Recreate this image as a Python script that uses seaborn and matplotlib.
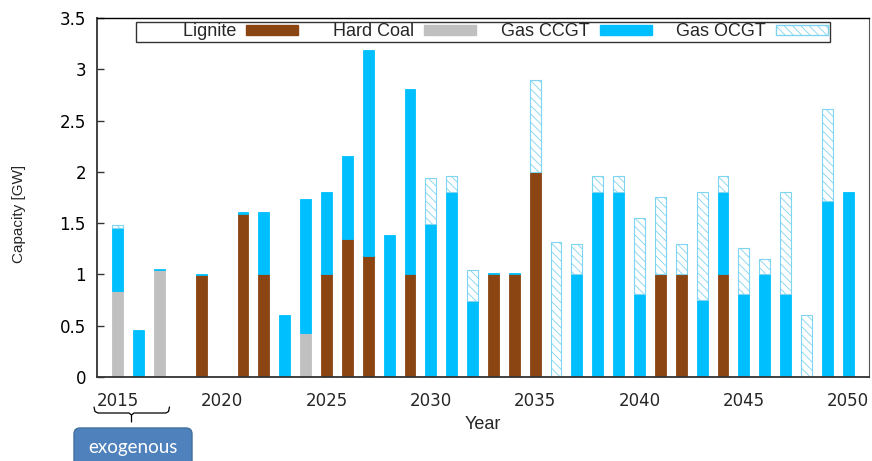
import pandas as pd
import seaborn as sns
import matplotlib.pyplot as plt
from matplotlib.patches import Patch, FancyBboxPatch
from matplotlib.lines import Line2D
from matplotlib.colors import to_rgb
from matplotlib.transforms import IdentityTransform

# capacity additions per year [GW]
years = [2015, 2016, 2017, 2019] + list(range(2021, 2051))
lignite = [0, 0, 0, 0.99,
           1.59, 1.0, 0, 0, 1.0, 1.345, 1.175, 0, 1.0, 0,
           0, 0, 1.0, 1.0, 2.0, 0, 0, 0, 0, 0,
           1.0, 1.0, 0, 1.0, 0, 0, 0, 0, 0, 0]
hard_coal = [0.84, 0, 1.04, 0,
             0, 0, 0, 0.43, 0, 0, 0, 0, 0, 0,
             0, 0, 0, 0, 0, 0, 0, 0, 0, 0,
             0, 0, 0, 0, 0, 0, 0, 0, 0, 0]
gas_ccgt = [0.61, 0.455, 0.015, 0.01,
            0.02, 0.605, 0.605, 1.305, 0.8, 0.81, 2.01, 1.385, 1.81, 1.49,
            1.805, 0.74, 0.01, 0.01, 0, 0, 1.0, 1.805, 1.805, 0.805,
            0, 0, 0.755, 0.805, 0.805, 1.0, 0.805, 0, 1.72, 1.805]
gas_ocgt = [0.03, 0, 0, 0,
            0, 0, 0, 0, 0, 0, 0, 0, 0, 0.45,
            0.15, 0.30, 0, 0, 0.9, 1.315, 0.30, 0.15, 0.15, 0.75,
            0.755, 0.30, 1.05, 0.15, 0.45, 0.155, 1.0, 0.6, 0.895, 0]

techs = ['Lignite', 'Hard Coal', 'Gas CCGT', 'Gas OCGT']
palette = {'Lignite': '#8B4513', 'Hard Coal': '#C0C0C0',
           'Gas CCGT': '#00BFFF', 'Gas OCGT': '#7FD4F0'}
hatch_col = '#7FD4F0'

df = pd.DataFrame({'Year': years, 'Lignite': lignite, 'Hard Coal': hard_coal,
                   'Gas CCGT': gas_ccgt, 'Gas OCGT': gas_ocgt})
df = df.melt(id_vars='Year', var_name='Tech', value_name='GW')

sns.set_theme(style='white')
plt.rcParams['font.family'] = ['DejaVu Sans']
plt.rcParams['hatch.linewidth'] = 0.6

fig = plt.figure(figsize=(8.72, 4.61), dpi=100)
ax = fig.add_axes([97 / 872, 84 / 461, 772 / 872, 359 / 461])

# seaborn puts the first hue level on top of the stack
sns.histplot(data=df, x='Year', weights='GW', hue='Tech', hue_order=techs[::-1],
             multiple='stack', discrete=True, shrink=0.52, palette=palette,
             alpha=1, legend=False, ax=ax)

for p in ax.patches:
    if p.get_height() < 1e-6:
        p.set_visible(False)
        continue
    fc = to_rgb(p.get_facecolor())
    if max(abs(a - b) for a, b in zip(fc, to_rgb(palette['Gas OCGT']))) < 0.02:
        p.set_facecolor('white')
        p.set_edgecolor(hatch_col)
        p.set_hatch('\\\\\\\\')
        p.set_linewidth(0.8)
    else:
        p.set_edgecolor(fc)
        p.set_linewidth(0.6)

ax.set_xlim(2014, 2051)
ax.set_ylim(0, 3.5)
ax.set_xticks(range(2015, 2051, 5))
yt = [0, 0.5, 1, 1.5, 2, 2.5, 3, 3.5]
ax.set_yticks(yt)
ax.set_yticklabels([f'{v:g}' for v in yt])
ax.tick_params(axis='y', direction='in', length=5, width=1, left=True,
               labelsize=12, pad=8, colors='#333333', labelcolor='black')
ax.tick_params(axis='x', length=0, labelsize=12, pad=11)

ax.set_ylabel('Capacity [GW]', fontsize=11, family='Liberation Sans')
ax.set_xlabel('Year', fontsize=13, family='Liberation Sans')
ax.yaxis.set_label_coords(-0.092, 0.454)
ax.xaxis.set_label_coords(0.5, -0.109)
ax.xaxis.label.set_va('top')

for side, lw, col in [('left', 1.3, '#333333'), ('bottom', 1.3, '#333333'),
                      ('top', 1.0, 'black'), ('right', 0.8, '#555555')]:
    ax.spines[side].set_linewidth(lw)
    ax.spines[side].set_color(col)

# gnuplot-style key: labels right-aligned in equal columns
leg_labels = [' ' * 9 + 'Lignite', '   Hard Coal', ' Gas CCGT', ' Gas OCGT']
handles = [Patch(facecolor=palette['Lignite'], edgecolor=palette['Lignite']),
           Patch(facecolor=palette['Hard Coal'], edgecolor=palette['Hard Coal']),
           Patch(facecolor=palette['Gas CCGT'], edgecolor=palette['Gas CCGT']),
           Patch(facecolor='white', edgecolor=hatch_col, hatch='\\\\\\\\')]
leg = ax.legend(handles, leg_labels, loc='upper center', bbox_to_anchor=(0.5, 0.99),
                ncol=4, markerfirst=False, frameon=True,
                prop={'family': 'Liberation Sans', 'size': 13},
                fancybox=False, borderaxespad=0, borderpad=0.1,
                handlelength=2.88, handleheight=0.5, handletextpad=0.55,
                columnspacing=1.1)
leg.get_frame().set_edgecolor('black')
leg.get_frame().set_linewidth(1.0)

# brace and "exogenous" box under the first years
ident = IdentityTransform()
fig.add_artist(Line2D([94, 95, 98, 129, 131.5, 131.5], [54, 49.5, 48, 48, 46, 39],
                      color='black', lw=0.9, transform=ident))
fig.add_artist(Line2D([131.5, 134, 166, 168.5, 169.5], [46, 48, 48, 49.5, 54],
                      color='black', lw=0.9, transform=ident))
fig.add_artist(FancyBboxPatch((74, -20), 118, 53,
                              boxstyle='round,pad=0,rounding_size=6',
                              facecolor='#4F81BD', edgecolor='#41719C', lw=1,
                              transform=ident))
fig.text(133, 14, 'exogenous', color='white', fontsize=13.5, family='Lato',
         ha='center', va='center', transform=ident)

fig.savefig('out.png', dpi=100)
